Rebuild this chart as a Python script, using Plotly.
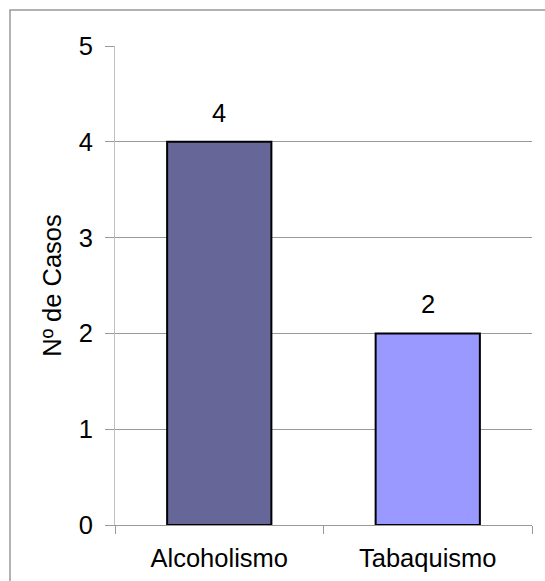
import plotly.graph_objects as go

# Número de casos por hábito
categorias = ["Alcoholismo", "Tabaquismo"]
casos = [4, 2]
cores = ["#666699", "#9999FF"]
ticks_y = [0, 1, 2, 3, 4, 5]

W, H = 545, 581
L, R, T, B = 115, 13, 46, 56
plot_w = W - L - R
plot_h = H - T - B

FONT_SIZE = 25.5
font = dict(family="Arial, Liberation Sans, sans-serif", size=FONT_SIZE, color="black")

fig = go.Figure(
    go.Bar(
        x=categorias,
        y=casos,
        marker=dict(color=cores, line=dict(color="black", width=2)),
        width=0.5,
        hoverinfo="x+y",
    )
)

# Rótulos de valor acima de cada barra
for cat, v in zip(categorias, casos):
    fig.add_annotation(
        x=cat, y=v, text=str(v), showarrow=False,
        yanchor="bottom", yshift=13, font=font,
    )

# Moldura exterior do gráfico
def px_x(p):
    return (p - L) / plot_w

def px_y(p):
    return (H - B - p) / plot_h

fig.add_shape(
    type="rect", xref="paper", yref="paper",
    x0=px_x(10), x1=px_x(W + 20), y0=px_y(10), y1=px_y(H + 20),
    line=dict(color="#999999", width=1.5), fillcolor="rgba(0,0,0,0)",
    layer="below",
)

fig.update_layout(
    width=W, height=H,
    margin=dict(l=L, r=R, t=T, b=B),
    paper_bgcolor="white", plot_bgcolor="white",
    font=font,
    showlegend=False,
    xaxis=dict(
        showline=True, linecolor="#999999", linewidth=1,
        ticks="outside", tickson="boundaries", ticklen=8, tickcolor="#999999",
        showgrid=False, tickfont=font, ticklabelstandoff=10,
        automargin=False,
    ),
    yaxis=dict(
        range=[0, 5], tickvals=ticks_y,
        showline=True, linecolor="#c0c0c0", linewidth=1,
        ticks="outside", ticklen=9, tickcolor="#999999",
        showgrid=True, gridcolor="#999999", gridwidth=1,
        zeroline=False, tickfont=font, ticklabelstandoff=7,
        title=dict(text="Nº de Casos", font=font, standoff=9),
        automargin=False,
    ),
)

fig.write_html("out.html")
